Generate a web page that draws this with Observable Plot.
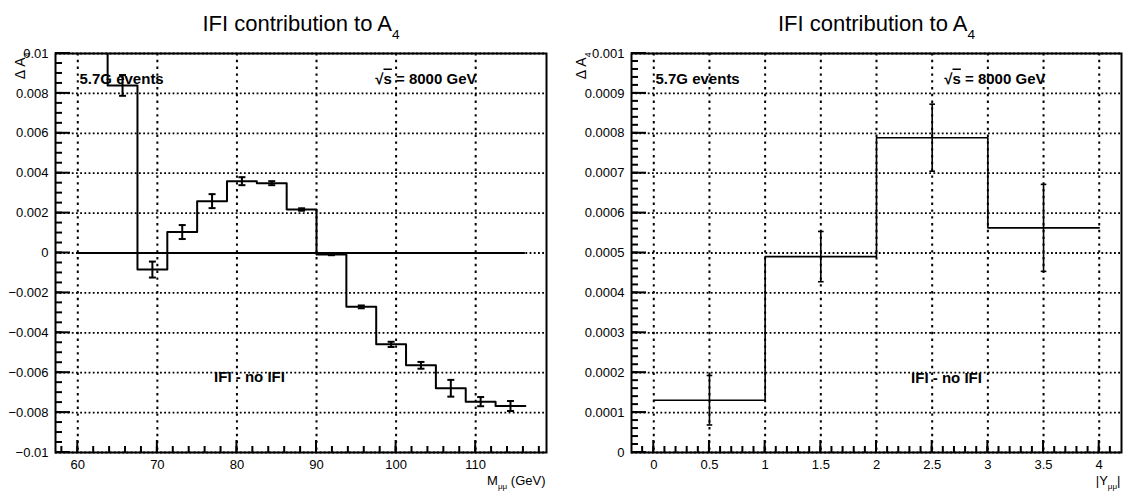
<!DOCTYPE html>
<html>
<head>
<meta charset="utf-8">
<script src="https://cdn.jsdelivr.net/npm/d3@7"></script>
<script src="https://cdn.jsdelivr.net/npm/@observablehq/plot@0.6"></script>
<style>
  body { margin: 0; background: #fff; }
  #wrap { display: flex; width: 1123px; height: 492px; }
  #wrap svg { display: block; }
</style>
</head>
<body>
<div id="wrap"></div>
<script>
// ---------- Left panel: dimuon mass ----------
const massEdges = [60, 63.75, 67.5, 71.25, 75, 78.75, 82.5, 86.25, 90, 93.75, 97.5, 101.25, 105, 108.75, 112.5, 116.25];
const massValues = [0.0125, 0.0084, -0.00083, 0.00105, 0.0026, 0.0036, 0.0035, 0.00218, -0.00007, -0.0027, -0.00458, -0.00563, -0.00678, -0.00745, -0.00767];
const massErrors = [0.0005, 0.00052, 0.0004, 0.00035, 0.00035, 0.0002, 0.0001, 0.00006, 0.00004, 0.00007, 0.00013, 0.00017, 0.00042, 0.00023, 0.00025];
const massXTicks = [60, 70, 80, 90, 100, 110];
const massXLabels = ["60", "70", "80", "90", "100", "110"];
const massYTicks = [-0.01, -0.008, -0.006, -0.004, -0.002, 0, 0.002, 0.004, 0.006, 0.008, 0.01];
const massYLabels = ["\u22120.01", "\u22120.008", "\u22120.006", "\u22120.004", "\u22120.002", "0", "0.002", "0.004", "0.006", "0.008", "0.01"];

// ---------- Right panel: dimuon rapidity ----------
const rapEdges = [0, 1, 2, 3, 4];
const rapValues = [0.000131, 0.000491, 0.000789, 0.000563];
const rapErrors = [0.000062, 0.000063, 0.000084, 0.000109];
const rapXTicks = [0, 0.5, 1, 1.5, 2, 2.5, 3, 3.5, 4];
const rapXLabels = ["0", "0.5", "1", "1.5", "2", "2.5", "3", "3.5", "4"];
const rapYTicks = [0, 0.0001, 0.0002, 0.0003, 0.0004, 0.0005, 0.0006, 0.0007, 0.0008, 0.0009, 0.001];
const rapYLabels = ["0", "0.0001", "0.0002", "0.0003", "0.0004", "0.0005", "0.0006", "0.0007", "0.0008", "0.0009", "0.001"];

const titleText = "IFI contribution to A_{4}";
const yTitle = "\u0394 A_{4}";
const eventsText = "5.7G events";
const sqrtText = "\u221As = 8000 GeV";
const diffText = "IFI - no IFI";

const HEIGHT = 492, MT = 53, MB = 40;

const capSymbol = {
  draw(ctx, size) {
    const w = Math.sqrt(size / Math.PI);
    ctx.moveTo(-w, 0);
    ctx.lineTo(w, 0);
  }
};

function labelFor(ticks, labels) {
  return d => labels[ticks.findIndex(t => Math.abs(t - d) < 1e-9)] ?? "";
}

function tickRows(cfg) {
  const [xa, xb] = cfg.xDomain;
  return {
    x: [
      ...cfg.xTicks.map(v => ({v, len: 12})),
      ...cfg.xMinor.filter(v => v > xa && v < xb).map(v => ({v, len: 6}))
    ],
    y: [
      ...cfg.yTicks.map(v => ({v, len: 15})),
      ...cfg.yMinor.map(v => ({v, len: 7}))
    ]
  };
}

function drawPanel(cfg) {
  const bins = cfg.values.map((v, i) => ({lo: cfg.edges[i], hi: cfg.edges[i + 1], v, e: cfg.errors[i]}));
  const steps = bins.flatMap(b => [{x: b.lo, y: b.v}, {x: b.hi, y: b.v}]);
  const caps = bins.flatMap(b => [
    {x: (b.lo + b.hi) / 2, y: b.v - b.e},
    {x: (b.lo + b.hi) / 2, y: b.v + b.e}
  ]);
  const marks = [
    Plot.frame({stroke: "black", strokeWidth: 2}),
    Plot.gridY(cfg.yTicks, {stroke: "black", strokeOpacity: 1, strokeWidth: 1.8, strokeDasharray: "1.8,2.4"}),
    Plot.gridX(cfg.xTicks, {stroke: "black", strokeOpacity: 1, strokeWidth: 2, strokeDasharray: "2.4,4.4"}),
    cfg.zero ? Plot.ruleY([0], {x1: cfg.edges[0], x2: cfg.edges[cfg.edges.length - 1], stroke: "black", strokeWidth: 2}) : null,
    Plot.line(steps, {x: "x", y: "y", stroke: "black", strokeWidth: cfg.lw, clip: true}),
    Plot.ruleX(bins, {x: b => (b.lo + b.hi) / 2, y1: b => b.v - b.e, y2: b => b.v + b.e, stroke: "black", strokeWidth: cfg.lw, clip: true}),
    Plot.dot(caps, {x: "x", y: "y", symbol: capSymbol, r: cfg.capR, stroke: "black", strokeWidth: cfg.lw, fill: "none", clip: true}),
    Plot.axisX(cfg.xTicks, {anchor: "bottom", tickSize: 0, tickPadding: 7, tickFormat: labelFor(cfg.xTicks, cfg.xLabels), label: null, fontSize: 13}),
    Plot.axisY(cfg.yTicks, {anchor: "left", tickSize: 0, tickPadding: 7, tickFormat: labelFor(cfg.yTicks, cfg.yLabels), label: null, fontSize: 13}),
    Plot.text([titleText], {text: d => d, frameAnchor: "top", dy: -22.5, lineAnchor: "bottom", fontSize: 22}),
    Plot.text([yTitle], {text: d => d, frameAnchor: "top-left", rotate: -90, textAnchor: "end", dx: cfg.yTitleDx, dy: -1, lineAnchor: "middle", fontSize: 14}),
    Plot.text([cfg.xTitle], {text: d => d, frameAnchor: "bottom-right", textAnchor: "end", dy: 32, dx: -1, lineAnchor: "bottom", fontSize: 13}),
    Plot.text([eventsText], {text: d => d, frameAnchor: "top-left", textAnchor: "start", dx: 24, dy: 30, lineAnchor: "bottom", fontSize: 15, fontWeight: "bold"}),
    Plot.text([sqrtText], {text: d => d, frameAnchor: "top-right", textAnchor: "end", dx: cfg.sqrtDx, dy: 30, lineAnchor: "bottom", fontSize: 15, fontWeight: "bold"}),
    Plot.text([diffText], {text: d => d, frameAnchor: "top-left", textAnchor: "middle", dx: cfg.diffDx, dy: cfg.diffDy, lineAnchor: "middle", fontSize: 15, fontWeight: "bold"})
  ].filter(Boolean);

  return Plot.plot({
    width: cfg.width,
    height: HEIGHT,
    marginLeft: cfg.marginLeft,
    marginRight: cfg.marginRight,
    marginTop: MT,
    marginBottom: MB,
    style: {fontFamily: "'Liberation Sans', Arial, Helvetica, sans-serif", fontSize: "13px", background: "white", color: "black"},
    x: {domain: cfg.xDomain},
    y: {domain: cfg.yDomain},
    marks
  });
}

// inward ROOT-style ticks, placed with the plot's own x and y scales
function addTicks(svg, cfg) {
  const sx = svg.scale("x"), sy = svg.scale("y");
  const [xa] = cfg.xDomain;
  const [ya] = cfg.yDomain;
  const rows = tickRows(cfg);
  const g = d3.select(svg).append("g")
    .attr("class", "inward-ticks")
    .attr("stroke", "black")
    .attr("stroke-width", 2)
    .attr("fill", "none");
  const yBase = sy.apply(ya);
  const xBase = sx.apply(xa);
  g.selectAll("line.xt").data(rows.x).join("line").attr("class", "xt")
    .attr("x1", d => sx.apply(d.v)).attr("x2", d => sx.apply(d.v))
    .attr("y1", yBase).attr("y2", d => yBase - d.len);
  g.selectAll("line.yt").data(rows.y).join("line").attr("class", "yt")
    .attr("y1", d => sy.apply(d.v)).attr("y2", d => sy.apply(d.v))
    .attr("x1", xBase).attr("x2", d => xBase + d.len);
}

function postProcess(svg) {
  d3.select(svg).selectAll("text").each(function () {
    const t = this.textContent;
    const sel = d3.select(this);
    if (t.includes("_{")) {
      const m = t.match(/^(.*)_\{(.*?)\}(.*)$/);
      const fs = parseFloat(getComputedStyle(this).fontSize) || 13;
      const shift = fs * 0.38;
      sel.selectAll("*").remove();
      sel.text(null);
      sel.append("tspan").text(m[1]);
      sel.append("tspan").attr("dy", shift).attr("font-size", (fs * 0.62) + "px").text(m[2]);
      if (m[3]) sel.append("tspan").attr("dy", -shift).text(m[3]);
    } else if (t.startsWith("\u221As")) {
      sel.selectAll("*").remove();
      sel.text(null);
      sel.append("tspan").text("\u221A");
      sel.append("tspan").style("text-decoration", "overline").text("s");
      sel.append("tspan").text(t.slice(2));
    }
  });
}

const wrap = document.getElementById("wrap");

const leftCfg = {
  width: 561, marginLeft: 55, marginRight: 15,
  xDomain: [57.2, 118.9], yDomain: [-0.01, 0.01],
  edges: massEdges, values: massValues, errors: massErrors,
  xTicks: massXTicks, xLabels: massXLabels,
  xMinor: d3.range(58, 119, 2),
  yTicks: massYTicks, yLabels: massYLabels,
  yMinor: d3.range(-20, 21).map(k => k * 0.0005),
  xTitle: "M_{\u03BC\u03BC} (GeV)",
  yTitleDx: -35, sqrtDx: -70, diffDx: 194, diffDy: 324,
  zero: true, lw: 2, capR: 3.5
};
const rightCfg = {
  width: 562, marginLeft: 70, marginRight: 2,
  xDomain: [-0.2, 4.2], yDomain: [0, 0.001],
  edges: rapEdges, values: rapValues, errors: rapErrors,
  xTicks: rapXTicks, xLabels: rapXLabels,
  xMinor: d3.range(-2, 43).map(k => k * 0.1),
  yTicks: rapYTicks, yLabels: rapYLabels,
  yMinor: d3.range(0, 51).map(k => k * 0.00002),
  xTitle: "|Y_{\u03BC\u03BC}|",
  yTitleDx: -50, sqrtDx: -76, diffDx: 315, diffDy: 325,
  zero: false, lw: 1.6, capR: 2.8
};

const left = drawPanel(leftCfg);
wrap.appendChild(left);
const right = drawPanel(rightCfg);
wrap.appendChild(right);

postProcess(left);
postProcess(right);
addTicks(left, leftCfg);
addTicks(right, rightCfg);
</script>
</body>
</html>
